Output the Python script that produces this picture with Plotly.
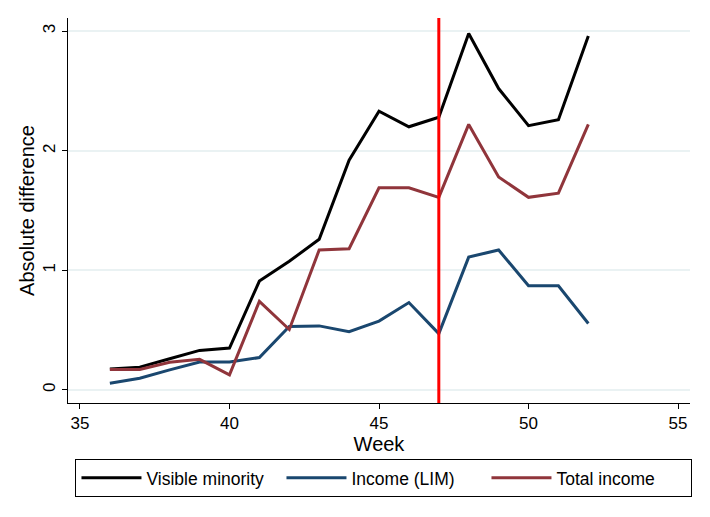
import plotly.graph_objects as go

weeks = list(range(36, 53))
visible_minority = [0.175, 0.19, 0.26, 0.33, 0.35, 0.91, 1.075, 1.26, 1.92, 2.33,
                    2.20, 2.28, 2.98, 2.52, 2.21, 2.26, 2.96]
income_lim = [0.055, 0.097, 0.167, 0.233, 0.233, 0.27, 0.53, 0.535, 0.486, 0.575,
              0.73, 0.47, 1.11, 1.17, 0.87, 0.87, 0.555]
total_income = [0.17, 0.17, 0.23, 0.255, 0.125, 0.74, 0.505, 1.17, 1.18, 1.69,
                1.69, 1.61, 2.22, 1.78, 1.61, 1.645, 2.22]
cutoff_week = 47

fig = go.Figure()
fig.add_trace(go.Scatter(x=weeks, y=visible_minority, mode='lines', name='Visible minority',
                         line=dict(color='black', width=3)))
fig.add_trace(go.Scatter(x=weeks, y=income_lim, mode='lines', name='Income (LIM)',
                         line=dict(color='#1a476f', width=3)))
fig.add_trace(go.Scatter(x=weeks, y=total_income, mode='lines', name='Total income',
                         line=dict(color='#90353b', width=3)))

fig.add_vline(x=cutoff_week, line_color='red', line_width=3)

# page body has an 8px margin, so the figure is a bit smaller than the window
fig.update_layout(
    width=702, height=509,
    margin=dict(l=60, r=20, t=10, b=114, autoexpand=False),
    paper_bgcolor='white', plot_bgcolor='white',
    font=dict(family='Liberation Sans, Arial', size=17, color='black'),
    showlegend=True,
    legend=dict(orientation='h', x=0.508, xanchor='center', y=-0.145, yanchor='top',
                bordercolor='black', borderwidth=1, entrywidth=130, itemwidth=60,
                font=dict(size=17.5)),
)
fig.update_xaxes(range=[34.6, 55.4], tickvals=[35, 40, 45, 50, 55], ticks='outside',
                 ticklen=5, tickcolor='black', showline=True, linecolor='black',
                 linewidth=1, showgrid=False, zeroline=False, automargin=False,
                 title=dict(text='Week', standoff=0))
fig.update_yaxes(range=[-0.11, 3.11], tickvals=[0, 1, 2, 3], ticks='outside',
                 ticklen=5, tickcolor='black', tickangle=-90, showline=True,
                 linecolor='black', linewidth=1, showgrid=True, gridcolor='#eaf2f3',
                 gridwidth=2, zeroline=False, automargin=False,
                 title=dict(text='Absolute difference', standoff=0))

fig.write_html("out.html")
